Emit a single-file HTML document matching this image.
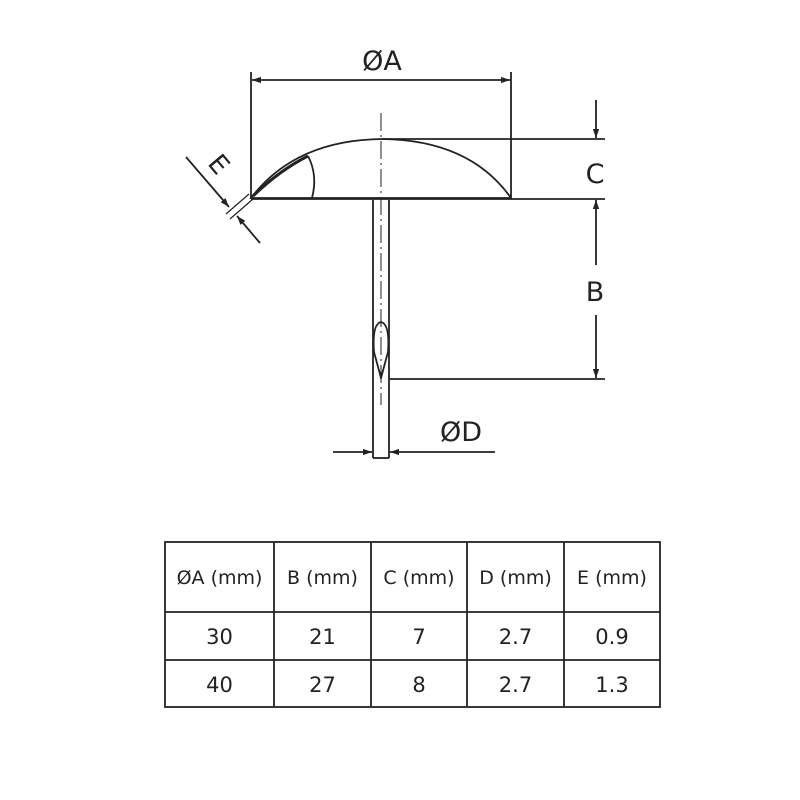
<!DOCTYPE html>
<html><head><meta charset="utf-8"><style>
html,body{margin:0;padding:0;background:#fff;}
svg{display:block;}
text{font-family:"DejaVu Sans","Liberation Sans",sans-serif;fill:#222;}
</style></head><body>
<svg width="800" height="800" viewBox="0 0 800 800" xmlns="http://www.w3.org/2000/svg">
<defs>
<marker id="ar" viewBox="0 0 10 10" refX="10" refY="5" markerWidth="13" markerHeight="9" orient="auto-start-reverse" markerUnits="userSpaceOnUse">
<path d="M0,1.5 L10,5 L0,8.5 Z" fill="#222"/></marker>
</defs>
<g stroke="#222" fill="none" stroke-width="1.8">
<!-- dome -->
<path d="M251,198 Q295,140 382,139 Q470,140 511,198 Z"/>
<line x1="251" y1="199" x2="511" y2="199"/>
<path d="M253,196 Q280,170 308,156" stroke-width="3"/>
<path d="M308,156 Q318,175 312,198"/>
<!-- shaft -->
<line x1="373" y1="200" x2="373" y2="458"/>
<line x1="389" y1="200" x2="389" y2="458"/>
<line x1="373" y1="458" x2="389" y2="458"/>
<path d="M381,378 L374,352 Q372,324 381,322 Q390,324 388,352 Z"/>
<!-- centerline -->
<line x1="381" y1="113" x2="381" y2="405" stroke-width="1" stroke-dasharray="18,4,2,4"/>
<!-- ØA -->
<line x1="251" y1="72" x2="251" y2="198"/>
<line x1="511" y1="72" x2="511" y2="198"/>
<line x1="252" y1="80" x2="510" y2="80" marker-start="url(#ar)" marker-end="url(#ar)"/>
<!-- C -->
<line x1="382" y1="139" x2="605" y2="139"/>
<line x1="511" y1="199" x2="605" y2="199"/>
<line x1="596" y1="100" x2="596" y2="138" marker-end="url(#ar)"/>
<line x1="596" y1="200" x2="596" y2="265" marker-start="url(#ar)"/>
<line x1="596" y1="315" x2="596" y2="378" marker-end="url(#ar)"/>
<line x1="389" y1="379" x2="605" y2="379"/>
<!-- ØD -->
<line x1="333" y1="452" x2="372" y2="452" marker-end="url(#ar)"/>
<line x1="495" y1="452" x2="390" y2="452" marker-end="url(#ar)"/>
<!-- E -->
<line x1="186" y1="157" x2="229" y2="207" marker-end="url(#ar)"/>
<line x1="260" y1="243" x2="237" y2="216" marker-end="url(#ar)"/>
<line x1="226" y1="214" x2="249" y2="194" stroke-width="1.2"/>
<line x1="230" y1="219" x2="253" y2="199" stroke-width="1.2"/>
<!-- table -->
<rect x="165" y="542" width="495" height="165"/>
<line x1="165" y1="612" x2="660" y2="612"/>
<line x1="165" y1="660" x2="660" y2="660"/>
<line x1="274" y1="542" x2="274" y2="707"/>
<line x1="371" y1="542" x2="371" y2="707"/>
<line x1="467" y1="542" x2="467" y2="707"/>
<line x1="564" y1="542" x2="564" y2="707"/>
</g>
<text x="382" y="70" font-size="27" text-anchor="middle">ØA</text>
<text x="595" y="183" font-size="27" text-anchor="middle">C</text>
<text x="595" y="301" font-size="27" text-anchor="middle">B</text>
<text x="461" y="441" font-size="27" text-anchor="middle">ØD</text>
<text x="0" y="0" font-size="26" text-anchor="middle" transform="translate(212,170) rotate(50)">E</text>
<g font-size="19" text-anchor="middle">
<text x="219.5" y="584">ØA (mm)</text>
<text x="322.5" y="584">B (mm)</text>
<text x="419" y="584">C (mm)</text>
<text x="515.5" y="584">D (mm)</text>
<text x="612" y="584">E (mm)</text>
<text x="219.5" y="644" font-size="21">30</text>
<text x="322.5" y="644" font-size="21">21</text>
<text x="419" y="644" font-size="21">7</text>
<text x="515.5" y="644" font-size="21">2.7</text>
<text x="612" y="644" font-size="21">0.9</text>
<text x="219.5" y="692" font-size="21">40</text>
<text x="322.5" y="692" font-size="21">27</text>
<text x="419" y="692" font-size="21">8</text>
<text x="515.5" y="692" font-size="21">2.7</text>
<text x="612" y="692" font-size="21">1.3</text>
</g>
</svg>
</body></html>
